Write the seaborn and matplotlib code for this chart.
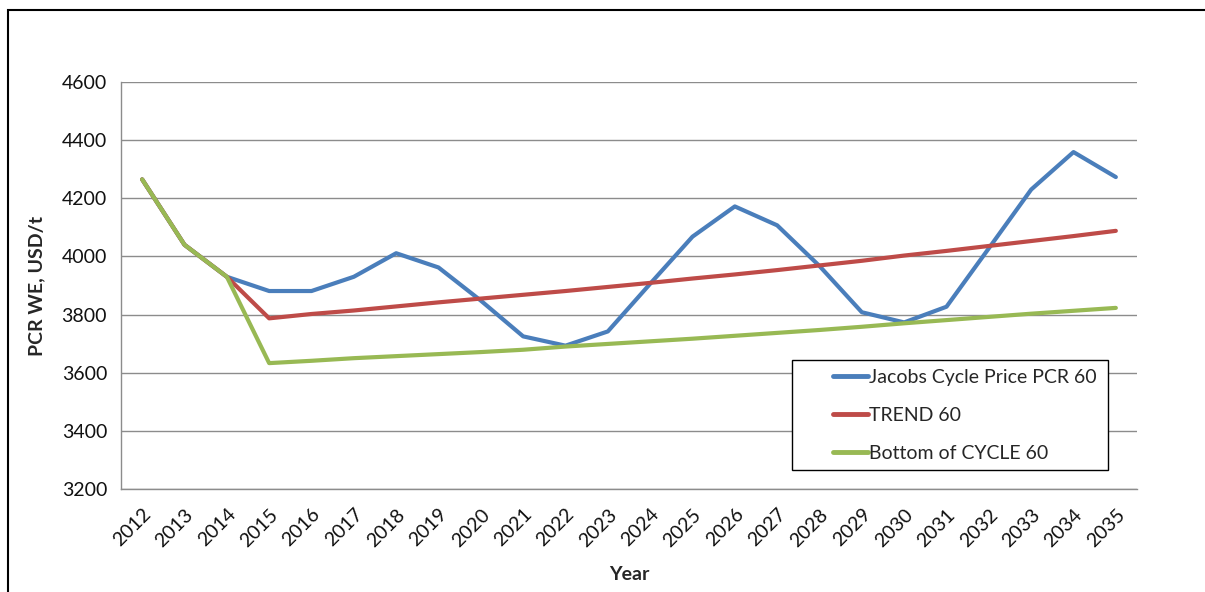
import numpy as np
import pandas as pd
import matplotlib
matplotlib.use('Agg')
import matplotlib.pyplot as plt
import seaborn as sns

years = [str(y) for y in range(2012, 2036)]
jacobs = [4265, 4040, 3930, 3881, 3881, 3930, 4011, 3962, 3848, 3725, 3693, 3742,
          3906, 4068, 4172, 4107, 3967, 3808, 3773, 3827, 4028, 4230, 4359, 4273]
trend = [4265, 4040, 3930, 3787, 3802, 3814, 3828, 3842, 3855, 3868, 3881, 3895,
         3909, 3924, 3938, 3953, 3969, 3985, 4003, 4019, 4036, 4053, 4070, 4088]
bottom = [4265, 4040, 3930, 3633, 3641, 3650, 3657, 3664, 3671, 3679, 3690, 3699,
          3708, 3717, 3727, 3737, 3747, 3758, 3770, 3781, 3792, 3803, 3813, 3823]
labels = ['Jacobs Cycle Price PCR 60', 'TREND 60', 'Bottom of CYCLE 60']
colors = ['#4A7EBB', '#BE4B48', '#98B954']

df = pd.DataFrame({'idx': np.arange(len(years)), 'year': years,
                   labels[0]: jacobs, labels[1]: trend, labels[2]: bottom})
long = df.melt(id_vars=['idx', 'year'], var_name='series', value_name='price')

sns.set_style('white')
plt.rcParams['font.family'] = ['Lato', 'DejaVu Sans']
fs = 14

fig = plt.figure(figsize=(12.05, 5.92), dpi=100)
ax = fig.add_axes([121 / 1205, 1 - 489 / 592, 1016 / 1205, 407 / 592])

sns.lineplot(data=long, x='idx', y='price', hue='series', hue_order=labels,
             palette=colors, linewidth=3.0, ax=ax, legend=True)

ax.set_xlim(-0.5, len(years) - 0.5)
ax.set_ylim(3200, 4600)
ax.set_yticks(np.arange(3200, 4601, 200))
ax.yaxis.grid(True, color='#8c8c8c', linewidth=1.0)
ax.set_axisbelow(True)

ax.set_xticks(np.arange(len(years)))
ax.set_xticklabels(years, rotation=45, ha='right', rotation_mode='anchor')
ax.set_xticks(np.arange(-0.5, len(years)), minor=True)
ax.tick_params(axis='x', which='major', length=0, pad=12, labelsize=fs, colors='#111111')
ax.tick_params(axis='x', which='minor', length=6, color='#8c8c8c', width=1)
ax.tick_params(axis='y', length=6, color='#8c8c8c', width=1, labelsize=fs,
               colors='#111111', pad=4)
for lbl in ax.get_xticklabels():
    lbl.set_color('#111111')

for s in ['top', 'right']:
    ax.spines[s].set_visible(False)
for s in ['left', 'bottom']:
    ax.spines[s].set_color('#8c8c8c')
    ax.spines[s].set_linewidth(1)

ax.set_xlabel('Year', fontsize=fs, fontweight='bold', labelpad=12)
ax.set_ylabel('PCR WE, USD/t', fontsize=fs, fontweight='bold', labelpad=12)

# legend box drawn separately (Excel style: wide left padding)
ax.add_patch(plt.Rectangle((0.6604, 0.0467), 0.311, 0.270, transform=ax.transAxes,
                           facecolor='white', edgecolor='black', linewidth=1,
                           zorder=5))
leg = ax.legend(loc='upper left', bbox_to_anchor=(0.7008, 0.295), frameon=False,
                fontsize=fs, handlelength=1.8, handletextpad=0.05,
                labelspacing=1.08, borderpad=0, borderaxespad=0)
leg.set_zorder(6)
for h in leg.legend_handles:
    h.set_linewidth(3.5)

# outer chart frame (left and top edges visible)
fig.patches.append(plt.Rectangle((8 / 1205, -0.1), 1.2, 1 - 10 / 592 + 0.1,
                                 transform=fig.transFigure, fill=False,
                                 edgecolor='black', linewidth=1.5))

fig.savefig('out.png', dpi=100)
